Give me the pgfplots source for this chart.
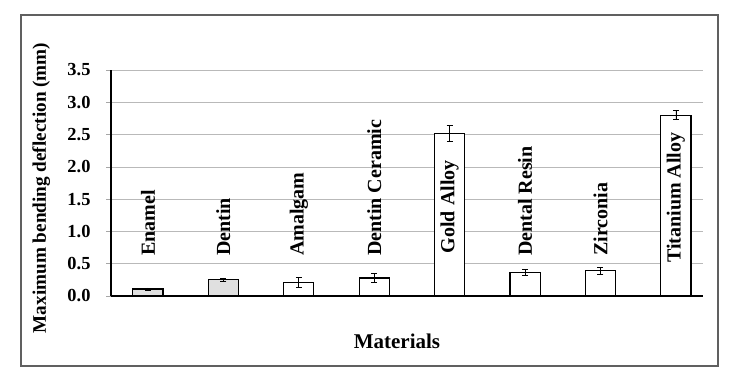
\documentclass[border=0pt]{standalone}
\usepackage{pgfplots}
\pgfplotsset{compat=1.18}
\usepackage{fontspec}
\setmainfont{Liberation Serif}
\begin{document}
\begin{tikzpicture}
\path[use as bounding box] (0,0) rectangle (744bp,-370bp);
\fill[white] (0,0) rectangle (744bp,-370bp);
\draw[gray!75!black, line width=1.6bp] (21bp,-15bp) rectangle (718bp,-366bp);
\begin{axis}[
  at={(111bp,-296bp)}, anchor=south west,
  scale only axis, width=592bp, height=226bp,
  xmin=-0.49, xmax=7.36, ymin=0, ymax=3.5,
  axis x line*=bottom, axis y line*=left,
  axis line style={black, line width=1.2bp},
  xtick=\empty,
  ytick={0,0.5,...,3.5},
  ymajorgrids, grid style={gray!55, line width=0.7bp},
  tick align=outside, major tick length=5bp,
  ytick style={gray!70, line width=0.7bp},
  /pgf/number format/assume math mode=true,
  yticklabel style={/pgf/number format/fixed, /pgf/number format/fixed zerofill, /pgf/number format/precision=1, font=\fontsize{18.4bp}{20bp}\selectfont\bfseries, xshift=-12bp},
  ylabel={Maximum bending deflection (mm)},
  ylabel style={at={(rel axis cs:-0.118,0.478)}, anchor=center, font=\fontsize{19.2bp}{21bp}\selectfont\bfseries},
  xlabel={Materials},
  xlabel style={at={(rel axis cs:0.483,-0.199)}, anchor=center, font=\fontsize{21bp}{23bp}\selectfont\bfseries},
  clip=false,
]
\addplot[ybar, bar width=0.4, bar shift=0pt, draw=black, fill=black!12, line width=1.2bp,
  error bars/.cd, y dir=both, y explicit,
  error bar style={black, line width=0.6bp},
  error mark options={rotate=90, mark size=3bp, black, line width=0.6bp}]
  coordinates {(0,0.11) +- (0,0.015) (1,0.25) +- (0,0.03)};
\addplot[ybar, bar width=0.4, bar shift=0pt, draw=black, fill=white, line width=1.2bp,
  error bars/.cd, y dir=both, y explicit,
  error bar style={black, line width=0.6bp},
  error mark options={rotate=90, mark size=3bp, black, line width=0.6bp}]
  coordinates {(2,0.21) +- (0,0.08) (3,0.28) +- (0,0.07) (4,2.52) +- (0,0.12)
               (5,0.37) +- (0,0.045) (6,0.39) +- (0,0.055) (7,2.80) +- (0,0.07)};
\foreach \i/\yy/\lab in {0/0.62/Enamel, 1/0.62/Dentin, 2/0.62/Amalgam, 3/0.62/Dentin Ceramic,
                          4/0.66/Gold Alloy, 5/0.62/Dental Resin, 6/0.62/Zirconia, 7/0.51/Titanium Alloy}{
  \edef\tmp{\noexpand\node[rotate=90, anchor=west, inner sep=0pt, font=\noexpand\fontsize{20bp}{22bp}\noexpand\selectfont\noexpand\bfseries] at (axis cs:\i,\yy) {\lab};}
  \tmp
}
\end{axis}
\end{tikzpicture}
\end{document}
